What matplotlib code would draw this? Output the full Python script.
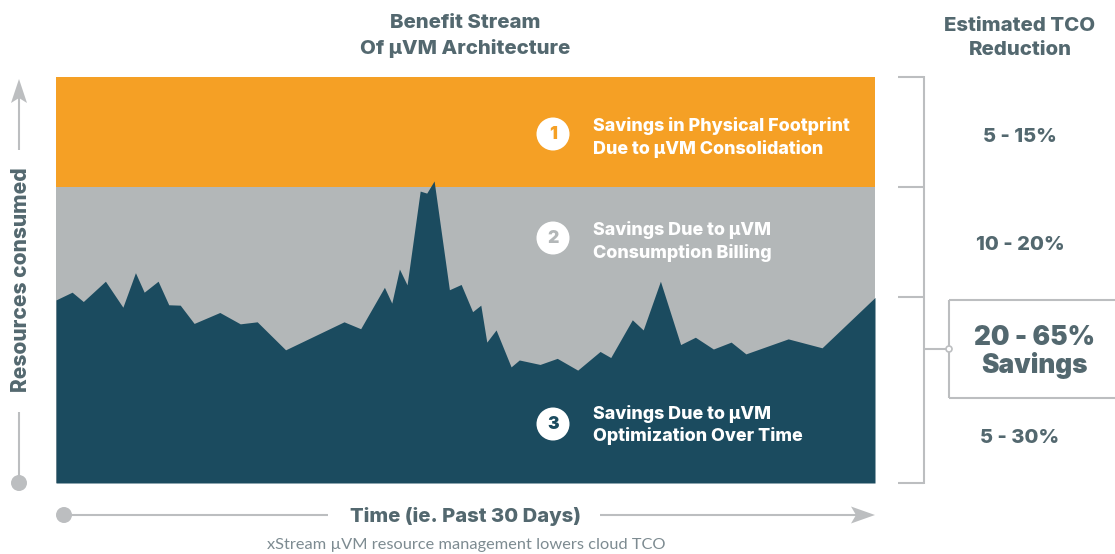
import matplotlib
matplotlib.use("Agg")
import matplotlib.pyplot as plt
from matplotlib.patches import Circle, Polygon

# ---- data: time in days, resources consumed as % of the provisioned maximum ----
days = [0, 0.59, 1.0, 1.81, 2.45, 2.91, 3.23, 3.74, 4.13, 4.55, 5.06, 6.0, 6.75, 7.37,
        8.41, 10.55, 11.16, 12.03, 12.30, 12.58, 12.86, 13.34, 13.58, 13.85, 14.41,
        14.84, 15.26, 15.56, 15.78, 16.12, 16.67, 16.97, 17.73, 18.36, 19.11, 19.93,
        20.32, 21.11, 21.51, 22.14, 22.88, 23.42, 24.08, 24.73, 25.27, 26.82, 28.06, 30]
usage = [45.1, 47.0, 44.7, 49.7, 43.3, 51.8, 47.0, 49.7, 43.9, 43.8, 39.3, 42.0, 39.2, 39.7,
         32.8, 39.7, 38.0, 48.2, 44.3, 52.7, 48.8, 71.9, 71.4, 74.4, 47.6,
         48.9, 42.2, 43.8, 34.7, 37.7, 28.6, 30.3, 29.2, 30.7, 27.8, 32.4,
         30.9, 40.2, 37.7, 49.7, 34.1, 35.9, 33.0, 34.7, 31.8, 35.5, 33.3, 45.7]
physical_top = 100
billing_top = 72.9
bracket_levels = [100, 72.9, 45.8, 0]

band_labels = ["Savings in Physical Footprint\nDue to µVM Consolidation",
               "Savings Due to µVM\nConsumption Billing",
               "Savings Due to µVM\nOptimization Over Time"]
band_numbers = ["1", "2", "3"]
band_y = [137.5, 241.5, 425]
reductions = ["5 - 15%", "10 - 20%", "5 - 30%"]
reduction_y = [137, 245, 438]

ORANGE = "#f5a025"
GREY = "#b3b7b8"
DARK = "#1b4b5f"
TXT = "#53686f"
LINE = "#bcbec0"
FONT = "Inter"

W, H = 1115, 554
fig = plt.figure(figsize=(W / 100, H / 100), dpi=100)
fig.patch.set_facecolor("white")

# overlay in pixel coordinates for annotation furniture
ov = fig.add_axes([0, 0, 1, 1], zorder=3)
ov.set_xlim(0, W)
ov.set_ylim(H, 0)
ov.axis("off")
ov.patch.set_alpha(0)

# data axes
ax = fig.add_axes([56 / W, 1 - 483 / H, (875 - 56) / W, (483 - 77) / H], zorder=1)
ax.set_xlim(0, 30)
ax.set_ylim(0, 100)
ax.axis("off")
ax.fill_between([0, 30], billing_top, physical_top, color=ORANGE, lw=0)
ax.fill_between([0, 30], 0, billing_top, color=GREY, lw=0)
ax.fill_between(days, 0, usage, color=DARK, lw=0)


def line(xs, ys, **kw):
    ov.plot(xs, ys, color=LINE, lw=1.5, solid_capstyle="butt", **kw)


def label(x, y, s, size, color=TXT, ha="center", weight=800, ls=1.2, **kw):
    ov.text(x, y, s, fontsize=size, color=color, ha=ha, va="center",
            family=FONT, fontweight=weight, linespacing=ls, **kw)


# headers
label(465, 36, "Benefit Stream\nOf µVM Architecture", 14.7, ls=1.42)
label(1020, 38, "Estimated TCO\nReduction", 14.7, ls=1.42)

# band labels
for lab, y in zip(band_labels, band_y):
    label(593, y, lab, 12.9, color="white", ha="left", ls=1.33)
for num, y, c in zip(band_numbers, [134, 238, 424], [ORANGE, GREY, DARK]):
    ov.add_patch(Circle((553, y), 16.5, fc="white", ec="none"))
    label(553, y + 0.5, num, 12.5, color=c, weight=900)

# bracket
for level in bracket_levels:
    py = 483 - level * 4.06
    line([898, 924], [py, py])
line([924, 924], [76.3, 483.7])
line([924, 949], [349, 349])
line([949, 1115], [300, 300])
line([949, 949], [300, 398])
line([949, 1115], [398, 398])
ov.add_patch(Circle((949, 349), 3, fc="white", ec=LINE, lw=1.2, zorder=5))

for s, y in zip(reductions, reduction_y):
    label(1020, y, s, 14.5)
label(1034, 352, "20 - 65%\nSavings", 18.9, weight=900, ls=1.08)

# y axis
line([19, 19], [412, 478])
line([19, 19], [97, 150])
ov.add_patch(Circle((19, 483), 8, fc=LINE, ec="none"))
ov.add_patch(Polygon([[19, 79], [11, 103], [19, 98], [27, 103]], closed=True, fc=LINE, ec="none"))
label(21.5, 280, "Resources consumed", 15.1, rotation=90)

# x axis
ov.add_patch(Circle((64, 515), 8, fc=LINE, ec="none"))
line([70, 328], [515, 515])
line([600, 858], [515, 515])
ov.add_patch(Polygon([[875, 515], [851, 506.5], [856, 515], [851, 523.5]], closed=True, fc=LINE, ec="none"))
label(465, 516.5, "Time (ie. Past 30 Days)", 14.6)

ov.text(466, 545.5, "xStream µVM resource management lowers cloud TCO", fontsize=11.8,
        color="#7d8b91", ha="center", va="center", family="Lato")

fig.savefig("out.png", dpi=100)
